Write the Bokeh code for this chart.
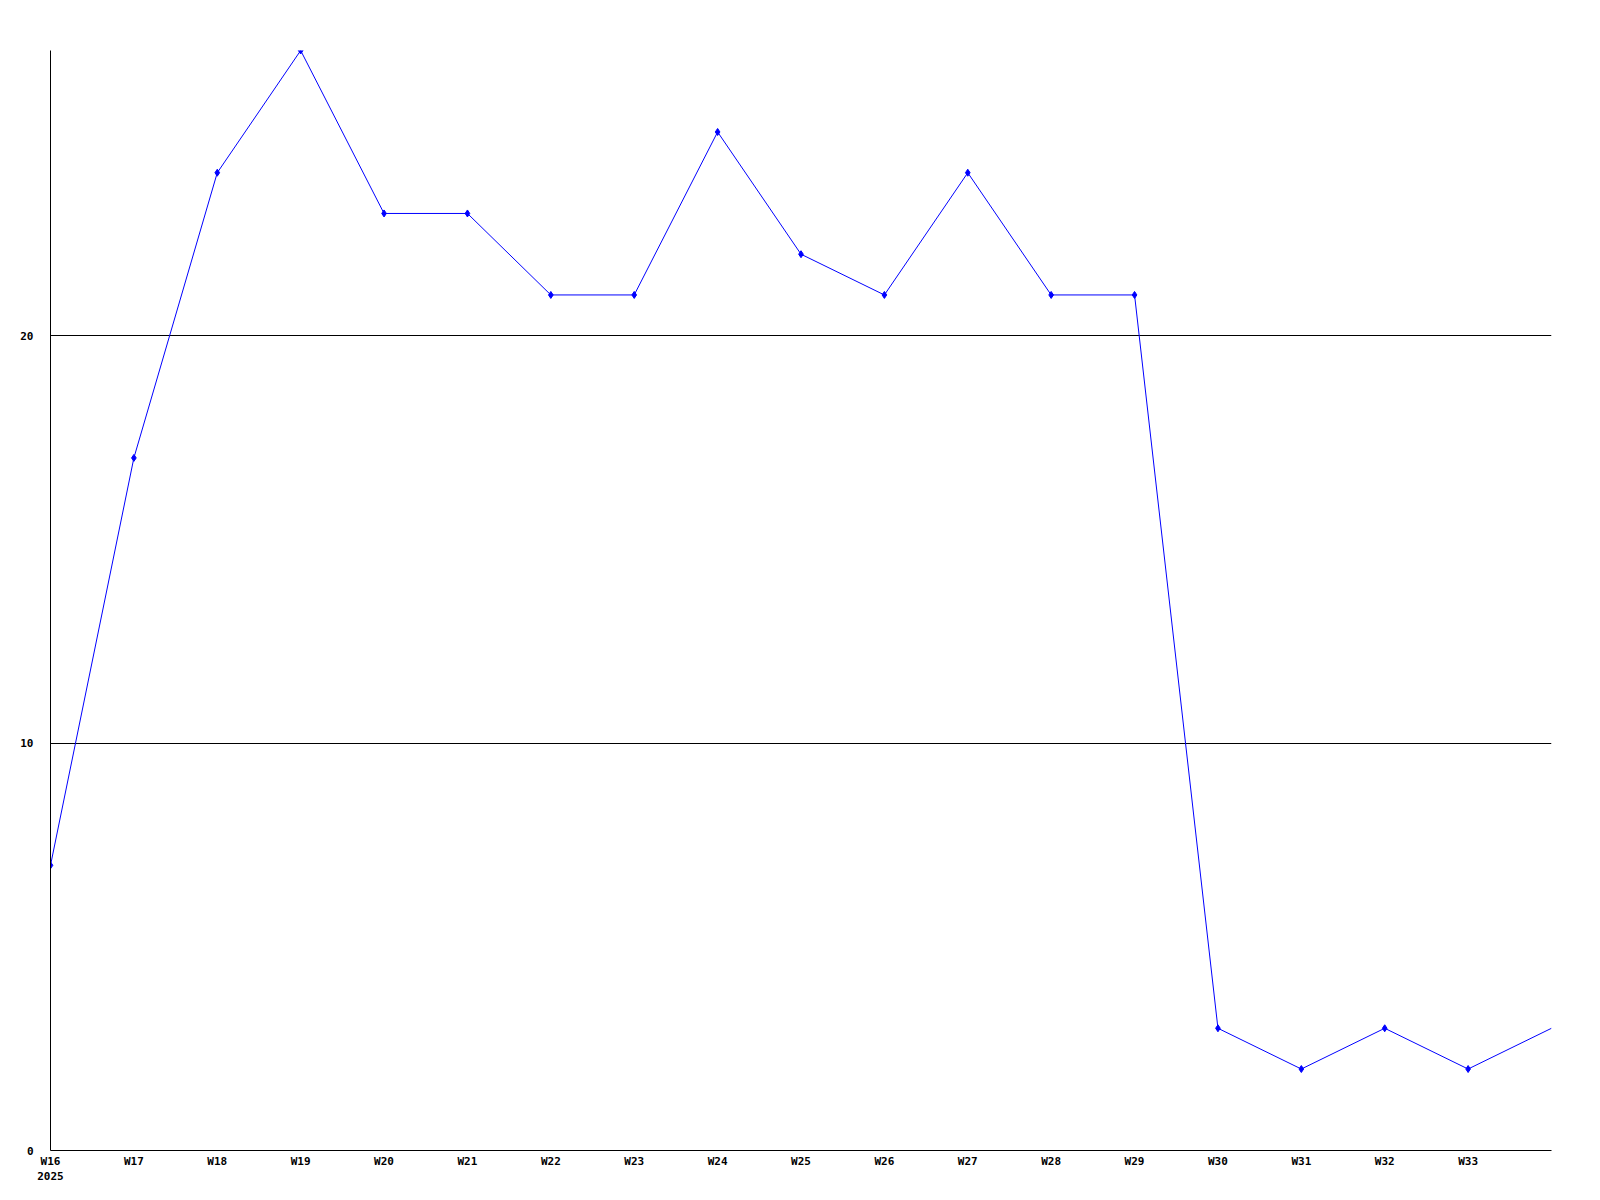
from bokeh.plotting import figure
from bokeh.models import FixedTicker, Range1d
from bokeh.embed import file_html
from bokeh.resources import INLINE

weeks = ["W16", "W17", "W18", "W19", "W20", "W21", "W22", "W23", "W24", "W25",
         "W26", "W27", "W28", "W29", "W30", "W31", "W32", "W33", "W34"]
values = [7, 17, 24, 27, 23, 23, 21, 21, 25, 22, 21, 24, 21, 21, 3, 2, 3, 2, 3]
year_label = "2025"
y_ticks = [0, 10, 20]

xs = list(range(len(weeks)))

p = figure(frame_width=1501, frame_height=1100, output_backend="svg",
           toolbar_location=None,
           x_range=Range1d(0, len(weeks) - 1), y_range=Range1d(0, 27),
           min_border_left=50, min_border_top=50, min_border_right=40,
           min_border_bottom=34)
p.outline_line_color = None
p.background_fill_color = "white"
p.border_fill_color = "white"

p.line(xs, values, line_color="#0000ff", line_width=1)
p.scatter(xs[:-1], values[:-1], marker="diamond", size=7,
          fill_color="#0000ff", line_color="#0000ff")

font = "DejaVu Sans Mono"
xa = p.xaxis[0]
xa.ticker = FixedTicker(ticks=xs[:-1])
overrides = {i: w for i, w in enumerate(weeks[:-1])}
overrides[0] = weeks[0] + "\n" + year_label
xa.major_label_overrides = overrides
xa.major_tick_line_color = None
xa.major_tick_out = 0
xa.major_tick_in = 0
xa.minor_tick_line_color = None
xa.minor_tick_out = 0
xa.axis_line_color = "black"
xa.major_label_text_font = font
xa.major_label_text_font_style = "bold"
xa.major_label_text_font_size = "11px"
xa.major_label_text_color = "black"
xa.major_label_standoff = 4

ya = p.yaxis[0]
ya.ticker = FixedTicker(ticks=y_ticks)
ya.major_tick_line_color = None
ya.major_tick_out = 0
ya.major_tick_in = 0
ya.minor_tick_line_color = None
ya.minor_tick_out = 0
ya.axis_line_color = "black"
ya.major_label_text_font = font
ya.major_label_text_font_style = "bold"
ya.major_label_text_font_size = "11px"
ya.major_label_text_color = "black"
ya.major_label_standoff = 17

p.xgrid.grid_line_color = None
p.ygrid.ticker = FixedTicker(ticks=y_ticks[1:])
p.ygrid.grid_line_color = "black"
p.ygrid.grid_line_alpha = 1.0

open("out.html", "w").write(file_html(p, INLINE))
